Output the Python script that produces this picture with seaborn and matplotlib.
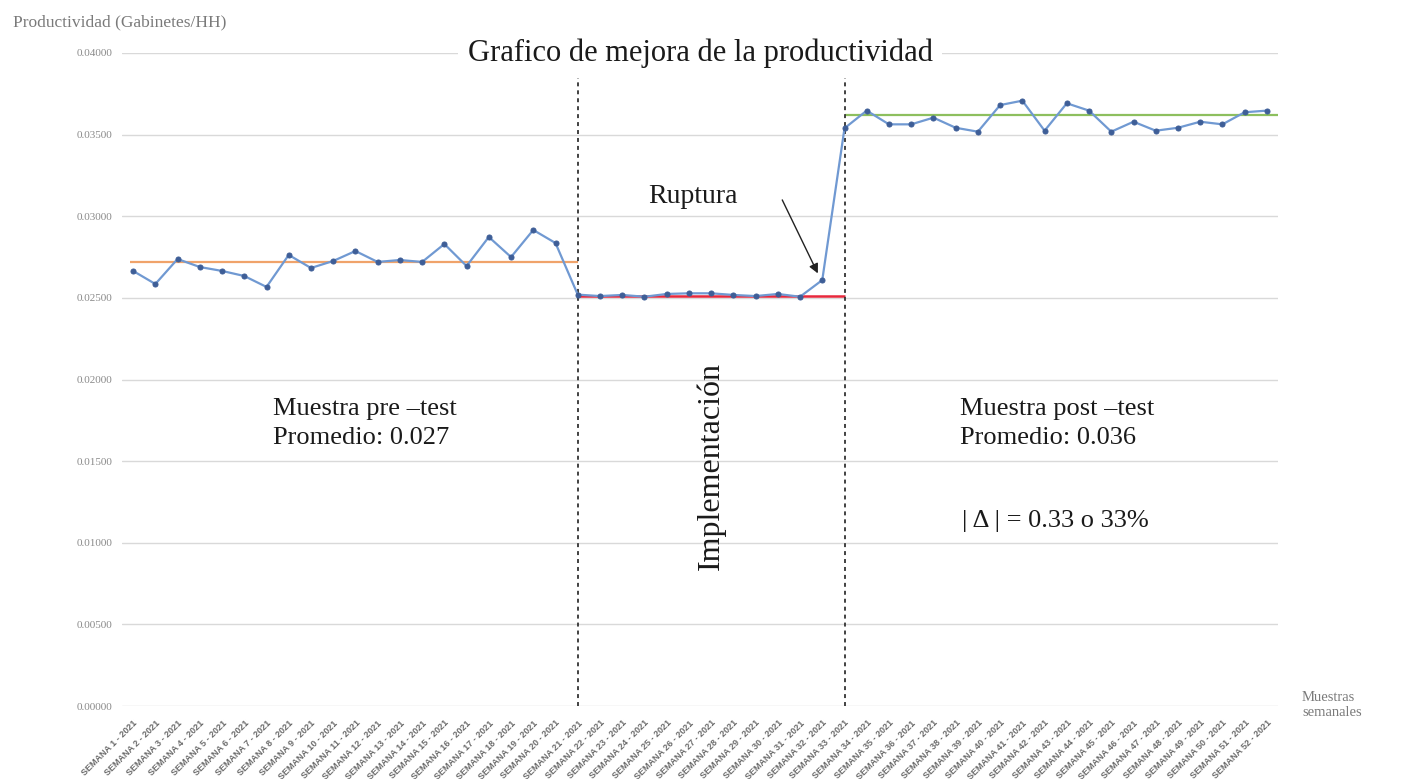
import matplotlib
matplotlib.use("Agg")
import matplotlib.pyplot as plt
import seaborn as sns
import pandas as pd

# Weekly productivity (cabinets per man-hour), 2021
semanas = [f"SEMANA {i} - 2021" for i in range(1, 53)]

prod_pre = [0.02665, 0.02585, 0.02738, 0.02689, 0.02665, 0.02634, 0.02567,
            0.02763, 0.02683, 0.02726, 0.02787, 0.02720, 0.02732, 0.02720,
            0.02830, 0.02695, 0.02873, 0.02750, 0.02916, 0.02836]
prod_impl = [0.02520, 0.02511, 0.02518, 0.02507, 0.02524, 0.02528, 0.02528,
             0.02518, 0.02511, 0.02524, 0.02507, 0.02609]
prod_post = [0.03539, 0.03647, 0.03563, 0.03563, 0.03604, 0.03542, 0.03518,
             0.03681, 0.03708, 0.03524, 0.03692, 0.03647, 0.03518, 0.03579,
             0.03524, 0.03542, 0.03579, 0.03563, 0.03637, 0.03647]

# Reference levels for each phase
prom_pre = 0.0272
nivel_impl = 0.0251
prom_post = 0.0362

y_ticks = [0.0, 0.005, 0.010, 0.015, 0.020, 0.025, 0.030, 0.035, 0.040]

valores = prod_pre + prod_impl + prod_post
df = pd.DataFrame({"idx": range(len(semanas)), "semana": semanas, "prod": valores})

inicio_impl = len(prod_pre)
inicio_post = len(prod_pre) + len(prod_impl)

sns.set_theme(style="white")
plt.rcParams["font.family"] = ["Liberation Serif", "DejaVu Serif"]

fig = plt.figure(figsize=(14.05, 7.79), dpi=100)
ax = fig.add_axes([122 / 1405, 1 - 706 / 779, (1278 - 122) / 1405, (706 - 53) / 779])

grid_col = "#D9D9D9"
for v in y_ticks:
    ax.axhline(v, color=grid_col, lw=1.0, zorder=0)

# phase reference lines
ax.hlines(prom_pre, -0.15, inicio_impl, color="#F0A36A", lw=1.6, zorder=2)
ax.hlines(nivel_impl, inicio_impl, inicio_post, color="#E8283C", lw=1.8, zorder=2)
ax.hlines(prom_post, inicio_post, len(semanas) - 0.5, color="#8DBF5E", lw=1.6, zorder=2)

# phase boundaries
ax.vlines([inicio_impl, inicio_post], 0, 0.0405, colors="#333333", lw=1.3,
          linestyles=(0, (2.2, 2.2)), zorder=3)

sns.lineplot(data=df, x="idx", y="prod", ax=ax, color="#7099D2", lw=1.6,
             marker="o", markersize=3.6, markerfacecolor="#3E5E97",
             markeredgecolor="#3E5E97", zorder=4)

ax.set_xlim(-0.5, len(semanas) - 0.5)
ax.set_ylim(0, 0.04)
ax.set_xticks(df["idx"])
ax.set_xticklabels(semanas, rotation=45, ha="right", va="top",
                   rotation_mode="anchor", fontsize=6.5, color="#6B6B6B",
                   family=["Liberation Sans", "DejaVu Sans"], fontweight="bold")
ax.set_yticks(y_ticks)
ax.set_yticklabels([f"{v:.5f}" for v in y_ticks], fontsize=8, color="#8A8A8A")
ax.tick_params(axis="both", length=0)
ax.tick_params(axis="x", pad=9)
ax.tick_params(axis="y", pad=7)
ax.set_xlabel("")
ax.set_ylabel("")
for s in ax.spines.values():
    s.set_visible(False)

ax.text(0.5, 1.0, "Grafico de mejora de la productividad", transform=ax.transAxes,
        ha="center", va="center", fontsize=22, color="#1A1A1A", zorder=6,
        bbox=dict(facecolor="white", edgecolor="none", pad=7), clip_on=False)

txt = dict(fontsize=19, color="#1A1A1A", ha="left", va="center")
ax.text(6.3, 0.0182, "Muestra pre \u2013test", **txt)
ax.text(6.3, 0.0164, f"Promedio: {prom_pre:.3f}", **txt)
ax.text(37.2, 0.0182, "Muestra post \u2013test", **txt)
ax.text(37.2, 0.0164, f"Promedio: {prom_post:.3f}", **txt)
ax.text(37.3, 0.01135, "| \u0394 | = 0.33 o 33%", **txt)
ax.text((inicio_impl + inicio_post) / 2, 0.0147, "Implementación", rotation=90,
        fontsize=23, color="#1A1A1A", ha="center", va="center")

ax.annotate("", xy=(inicio_post - 1.2, 0.0265), xytext=(29.2, 0.0310),
            arrowprops=dict(arrowstyle="-|>", color="#222222", lw=1.0,
                            mutation_scale=14, shrinkA=0, shrinkB=0))
ax.text(25.2, 0.0312, "Ruptura", fontsize=20, color="#1A1A1A",
        ha="center", va="center")

fig.text(13 / 1405, 1 - 22 / 779, "Productividad (Gabinetes/HH)", fontsize=12.5,
         color="#7A7A7A", ha="left", va="center")
fig.text(1302 / 1405, 1 - 705 / 779, "Muestras\nsemanales", fontsize=10.5,
         color="#7A7A7A", ha="left", va="center", linespacing=1.2)

fig.savefig("out.png", dpi=100, facecolor="white")
